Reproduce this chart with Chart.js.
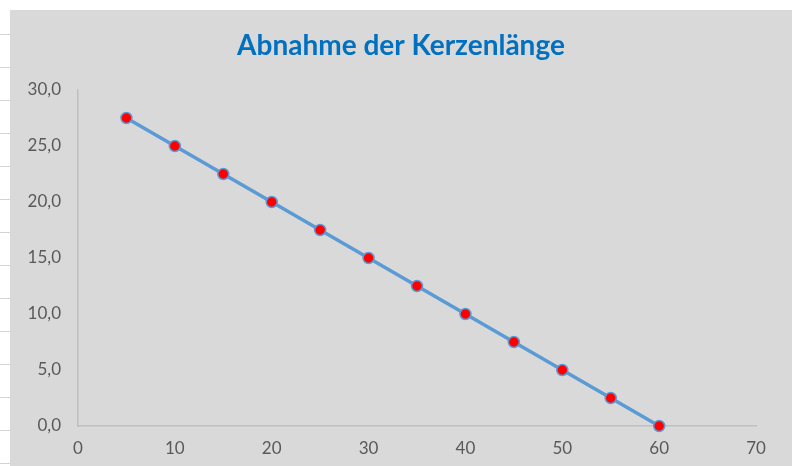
<!DOCTYPE html>
<html lang="de">
<head>
    <meta charset="UTF-8">
    <title>Abnahme der Kerzenlänge</title>
    <script src="https://cdn.jsdelivr.net/npm/chart.js"></script>
    <style>
        body { margin: 0; background: #fff; width: 792px; height: 466px; overflow: hidden; position: relative; }
        /* Zellenlinien links vom Diagramm */
        .zellen {
            position: absolute; left: 0; top: 2px; width: 10px; height: 464px;
            background: repeating-linear-gradient(to bottom, transparent 0, transparent 32px, #d4d4d4 32px, #d4d4d4 33px);
        }
        .box { position: absolute; left: 10px; top: 10px; width: 782px; height: 456px; background: #d9d9d9; }
    </style>
</head>
<body>
    <div class="zellen"></div>
    <div class="box">
        <canvas id="kerze" width="782" height="456"></canvas>
    </div>

    <script>
        // Brenndauer (min) und Kerzenlänge (cm)
        const minuten = [5, 10, 15, 20, 25, 30, 35, 40, 45, 50, 55, 60];
        const laenge = [27.5, 25.0, 22.5, 20.0, 17.5, 15.0, 12.5, 10.0, 7.5, 5.0, 2.5, 0.0];
        const xTicks = [0, 10, 20, 30, 40, 50, 60, 70];
        const yTicks = [0, 5, 10, 15, 20, 25, 30];

        const punkte = minuten.map((m, i) => ({ x: m, y: laenge[i] }));
        const schrift = "Lato, 'Open Sans', sans-serif";

        new Chart(document.getElementById('kerze'), {
            type: 'line',
            data: {
                datasets: [{
                    data: punkte,
                    borderColor: '#5b9bd5',
                    borderWidth: 3.5,
                    pointBackgroundColor: '#ff0000',
                    pointBorderColor: '#5b9bd5',
                    pointBorderWidth: 1.5,
                    pointRadius: 5.5,
                    tension: 0,
                    clip: false
                }]
            },
            options: {
                responsive: false,
                animation: false,
                layout: { padding: 0 },
                plugins: {
                    legend: { display: false },
                    tooltip: { enabled: false },
                    title: {
                        display: true,
                        text: 'Abnahme der Kerzenlänge',
                        color: '#0070c0',
                        font: { family: schrift, size: 28, weight: 'bold' },
                        padding: { top: 19, bottom: 27.4 }
                    }
                },
                scales: {
                    x: {
                        type: 'linear',
                        min: xTicks[0],
                        max: xTicks[xTicks.length - 1],
                        afterBuildTicks: s => { s.ticks = xTicks.map(v => ({ value: v })); },
                        afterFit: s => { s.height = 40; },
                        grid: { display: false, drawTicks: false },
                        border: { display: true, color: '#bfbfbf', width: 1.5 },
                        ticks: { color: '#595959', font: { family: schrift, size: 17 }, padding: 12 }
                    },
                    y: {
                        min: yTicks[0],
                        max: yTicks[yTicks.length - 1],
                        afterBuildTicks: s => { s.ticks = yTicks.map(v => ({ value: v })); },
                        afterFit: s => { s.width = 68; },
                        grid: { display: false, drawTicks: false },
                        border: { display: true, color: '#bfbfbf', width: 1.5 },
                        ticks: {
                            color: '#595959',
                            font: { family: schrift, size: 17 },
                            padding: 17,
                            callback: v => v.toFixed(1).replace('.', ',')
                        }
                    },
                    // leerer Rand rechts, damit der Titel über der ganzen Breite mittig bleibt
                    rand: {
                        position: 'right',
                        afterFit: s => { s.width = 36; },
                        grid: { display: false, drawTicks: false },
                        border: { display: false },
                        ticks: { display: false }
                    }
                }
            }
        });
    </script>
</body>
</html>
